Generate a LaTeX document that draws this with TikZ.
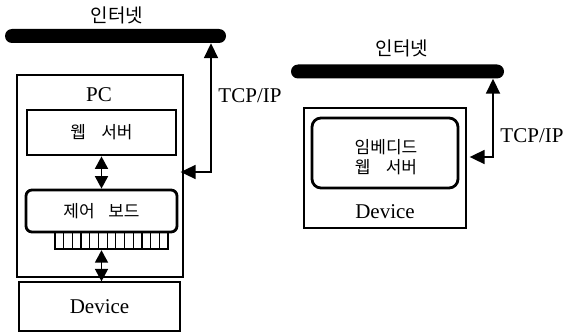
\documentclass[tikz,border=0pt]{standalone}
\usepackage{fontspec}
\setmainfont{Liberation Serif}
\newfontfamily\krfont{Noto Sans CJK KR}
\usetikzlibrary{arrows.meta}
\begin{document}
\begin{tikzpicture}[x=1pt,y=-1pt,
  box/.style={draw=black, line width=1.3pt, inner sep=0pt},
  heavybox/.style={draw=black, line width=2.8pt, inner sep=0pt},
  bus/.style={fill=black, rounded corners=7pt, inner sep=0pt, minimum height=14pt},
  latin/.style={font=\fontsize{21}{23}\selectfont, inner sep=0pt},
  hangul/.style={font=\krfont\fontsize{#1}{20}\selectfont, inner sep=0pt},
  link/.style={line width=1.8pt,
    {Triangle[length=15pt,width=14pt]}-{Triangle[length=15pt,width=14pt]}},
  shortlink/.style={line width=1.8pt,
    {Triangle[length=12.5pt,width=13pt]}-{Triangle[length=12.5pt,width=13pt]}},
]
\useasboundingbox (0,0) rectangle (569,334);

% ---------- PC with a control board ----------
\node[hangul=19] (net1) at (117,15) {인터넷};
\node[bus, minimum width=221pt] (bus1) at (115.5,36) {};

\node[box, minimum width=166pt, minimum height=202pt] (pc) at (100,176) {};
\node[latin] (pclabel) at (99,95) {PC};

\node[heavybox, hangul=17, minimum width=149pt, minimum height=45pt]
  (web) at (101.5,132.5) {웹\hspace{0.9em}서버};

\node[heavybox, rounded corners=6pt, hangul=17, minimum width=151pt, minimum height=42pt]
  (board) at (101.5,211) {제어\hspace{0.8em}보드};

% pin header under the board
\node[draw, line width=2.4pt, inner sep=0pt, minimum width=113pt, minimum height=17pt]
  (pins) at (111.5,240.5) {};
\foreach \i in {1,...,12}
  \draw[line width=1.3pt] ({55+\i*113/13},232) -- ++(0,17);

\node[box, latin, minimum width=161pt, minimum height=49pt] (dev1) at (99.5,306.5) {Device};

\draw[shortlink] (web.south) -- (board.north);
\draw[shortlink] (pins.south -| board.south) -- (board.south |- dev1.north);

\coordinate (bend1) at (211,172);
\draw[link, shorten <=-3pt] (bend1 -| pc.east) -- (bend1) -- (bend1 |- bus1.south);
\node[latin] (tcp1) at (250,96) {TCP/IP};

% ---------- device with an embedded web server ----------
\node[hangul=19] (net2) at (402,48) {인터넷};
\node[bus, minimum width=213pt] (bus2) at (397.5,71.5) {};

\node[box, minimum width=162pt, minimum height=120pt] (dev2) at (385,168) {};
\node[heavybox, rounded corners=9pt, minimum width=146pt, minimum height=70pt]
  (emb) at (385,153) {};
\node[hangul=17, align=center] (embtext) at (386,157) {임베디드\\웹\hspace{0.9em}서버};
\node[latin] (dev2label) at (385,212) {Device};

\coordinate (bend2) at (493,157);
\draw[link, shorten <=3pt] (bend2 -| dev2.east) -- (bend2) -- (bend2 |- bus2.south);
\node[latin] (tcp2) at (532,136) {TCP/IP};
\end{tikzpicture}
\end{document}
